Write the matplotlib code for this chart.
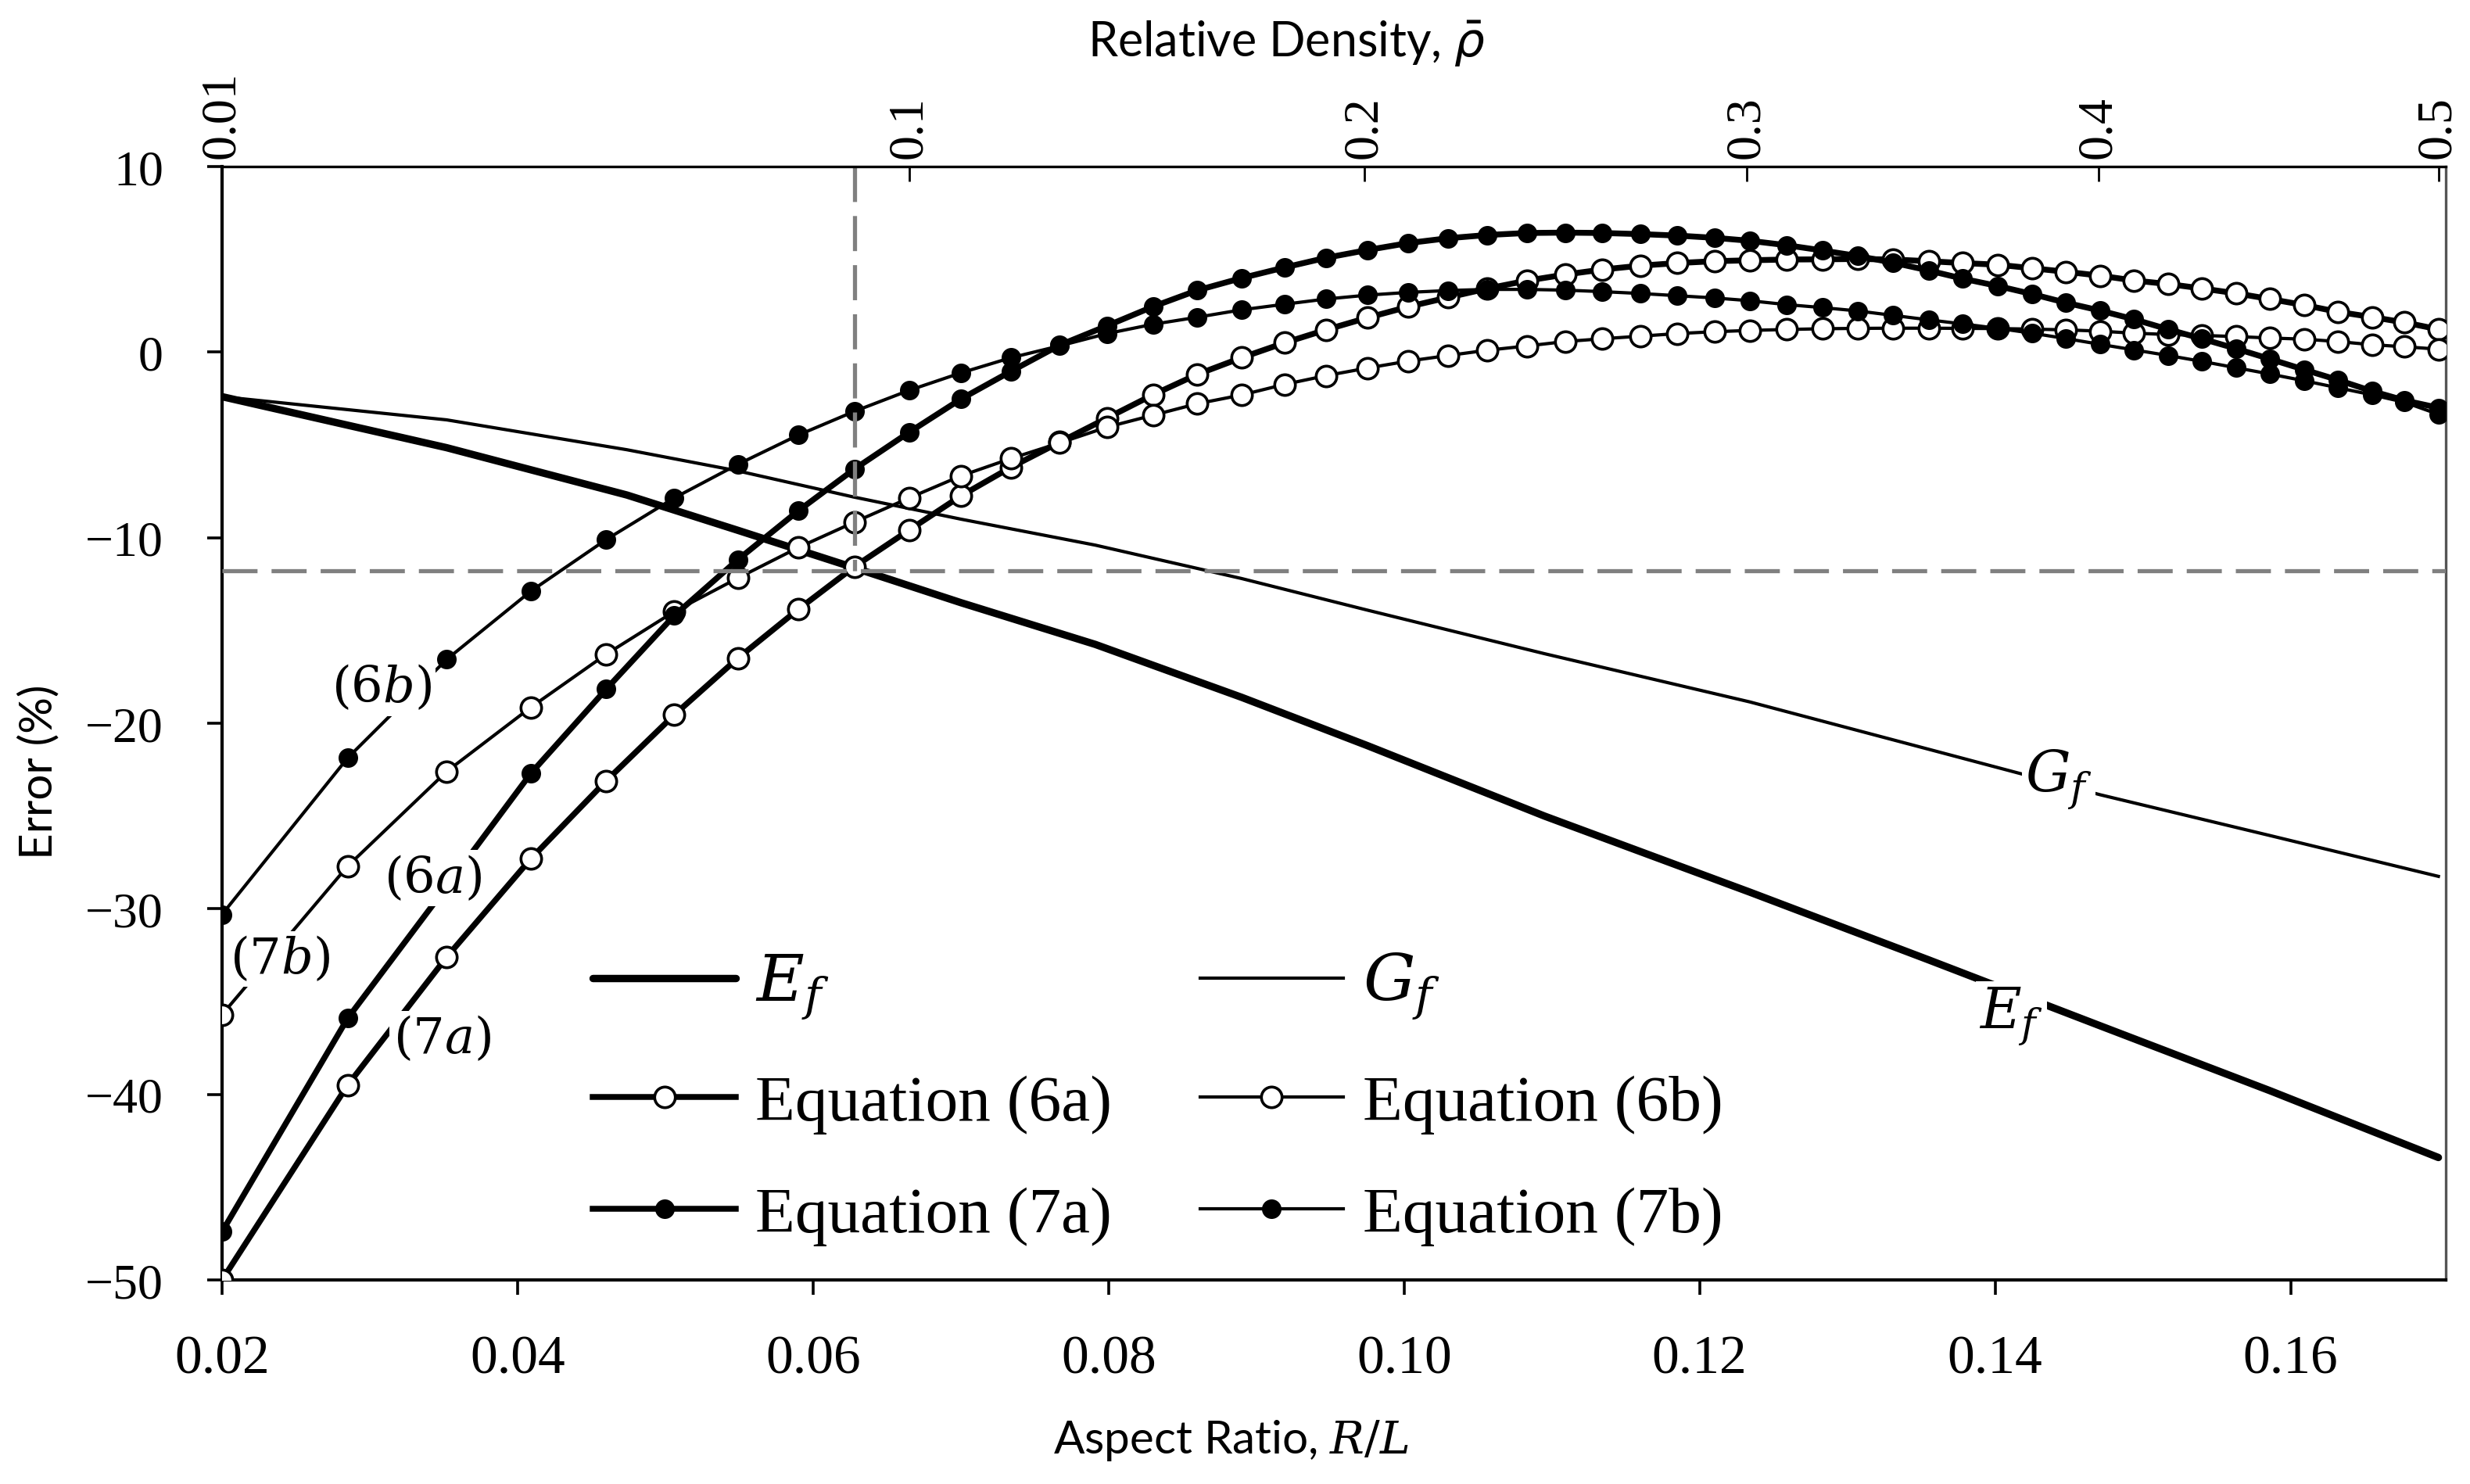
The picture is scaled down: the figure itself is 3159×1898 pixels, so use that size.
import numpy as np
import matplotlib.pyplot as plt
from matplotlib.ticker import FormatStrFormatter

plt.rcParams['font.family'] = 'Liberation Serif'
plt.rcParams['mathtext.fontset'] = 'dejavuserif'

# relative density of each computed point (top axis) and its aspect ratio R/L
density = [0.01, 0.02, 0.03, 0.04, 0.05, 0.06, 0.07, 0.08, 0.09, 0.10,
           0.11, 0.12, 0.13, 0.14, 0.15, 0.16, 0.17, 0.18, 0.19, 0.20,
           0.21, 0.22, 0.23, 0.24, 0.25, 0.26, 0.27, 0.28, 0.29, 0.30,
           0.31, 0.32, 0.33, 0.34, 0.35, 0.36, 0.37, 0.38, 0.39, 0.40,
           0.41, 0.42, 0.43, 0.44, 0.45, 0.46, 0.47, 0.48, 0.49, 0.50]
aspect = [0.0200, 0.0285, 0.0352, 0.0409, 0.0460, 0.0506, 0.0549, 0.0590, 0.0628, 0.0665,
          0.0700, 0.0734, 0.0767, 0.0799, 0.0830, 0.0860, 0.0890, 0.0919, 0.0947, 0.0975,
          0.1003, 0.1030, 0.1056, 0.1083, 0.1109, 0.1134, 0.1160, 0.1185, 0.1210, 0.1234,
          0.1259, 0.1283, 0.1307, 0.1331, 0.1355, 0.1378, 0.1402, 0.1425, 0.1448, 0.1471,
          0.1494, 0.1517, 0.1540, 0.1563, 0.1586, 0.1609, 0.1632, 0.1655, 0.1677, 0.1700]

# error (%) of each equation
eq6a = [-50.0, -39.5, -32.6, -27.3, -23.1, -19.55, -16.5, -13.86, -11.56, -9.59,
        -7.75, -6.2, -4.85, -3.55, -2.3, -1.2, -0.3, 0.5, 1.2, 1.85,
        2.45, 2.95, 3.42, 3.85, 4.18, 4.45, 4.66, 4.8, 4.9, 4.95,
        4.99, 5.0, 5.02, 4.99, 4.9, 4.8, 4.71, 4.52, 4.33, 4.12,
        3.86, 3.67, 3.43, 3.17, 2.86, 2.54, 2.17, 1.89, 1.6, 1.23]
eq6b = [-35.7, -27.7, -22.6, -19.14, -16.28, -13.98, -12.18, -10.53, -9.16, -7.86,
        -6.67, -5.73, -4.89, -4.04, -3.4, -2.78, -2.31, -1.74, -1.27, -0.86,
        -0.48, -0.18, 0.1, 0.33, 0.57, 0.72, 0.86, 1.0, 1.1, 1.17,
        1.22, 1.26, 1.28, 1.29, 1.29, 1.28, 1.27, 1.24, 1.2, 1.13,
        1.02, 0.95, 0.9, 0.84, 0.76, 0.7, 0.57, 0.4, 0.29, 0.16]
eq7a = [-47.4, -35.9, -28.8, -22.7, -18.16, -14.2, -11.19, -8.55, -6.3, -4.32,
        -2.53, -1.03, 0.38, 1.42, 2.45, 3.33, 3.99, 4.56, 5.08, 5.5,
        5.88, 6.14, 6.31, 6.42, 6.44, 6.42, 6.36, 6.28, 6.16, 6.0,
        5.76, 5.48, 5.18, 4.82, 4.4, 3.96, 3.56, 3.13, 2.66, 2.24,
        1.77, 1.23, 0.72, 0.19, -0.37, -0.94, -1.5, -2.1, -2.6, -3.0]
eq7b = [-30.3, -21.87, -16.56, -12.88, -10.1, -7.86, -6.05, -4.47, -3.19, -2.06,
        -1.12, -0.3, 0.34, 1.0, 1.5, 1.88, 2.28, 2.58, 2.86, 3.07,
        3.22, 3.32, 3.38, 3.38, 3.34, 3.26, 3.16, 3.04, 2.92, 2.77,
        2.56, 2.4, 2.22, 1.98, 1.74, 1.52, 1.28, 1.02, 0.73, 0.42,
        0.12, -0.18, -0.5, -0.84, -1.18, -1.54, -1.92, -2.3, -2.7, -3.35]

# Ef and Gf curves (no markers)
line_aspect = [0.0200, 0.0352, 0.0474, 0.0549, 0.0627, 0.0700, 0.0791, 0.0890,
               0.0975, 0.1095, 0.1234, 0.1355, 0.1471, 0.1586, 0.1700]
ef = [-2.4, -5.15, -7.7, -9.6, -11.6, -13.5, -15.75, -18.6,
      -21.2, -25.0, -29.1, -32.75, -36.3, -39.8, -43.4]
gf = [-2.4, -3.65, -5.26, -6.4, -7.8, -9.0, -10.4, -12.2,
      -13.9, -16.25, -18.85, -21.4, -23.85, -26.05, -28.25]

# top axis ticks
density_ticks = ['0.01', '0.1', '0.2', '0.3', '0.4', '0.5']
density_ticks_at = [0.0200, 0.0665, 0.0973, 0.1232, 0.1470, 0.1700]

# reference point marked by the dashed lines
limit_aspect = 0.0628
limit_error = -11.8


fig = plt.figure(figsize=(15.795, 9.495), dpi=200)
ax = fig.add_axes([0.0899, 0.1374, 0.9003, 0.7499])

l_ef, = ax.plot(line_aspect, ef, color='black', lw=3.4, solid_capstyle='round',
                label='$E_f$', zorder=2)
l_gf, = ax.plot(line_aspect, gf, color='black', lw=1.5, label='$G_f$', zorder=2)

l6a, = ax.plot(aspect, eq6a, color='black', lw=2.7, marker='o', ms=9.5,
               mfc='white', mec='black', mew=1.3, label='Equation (6a)', zorder=3)
l6b, = ax.plot(aspect, eq6b, color='black', lw=1.5, marker='o', ms=9.5,
               mfc='white', mec='black', mew=1.3, label='Equation (6b)', zorder=3)
l7a, = ax.plot(aspect, eq7a, color='black', lw=2.7, marker='o', ms=8,
               mfc='black', mec='black', label='Equation (7a)', zorder=3)
l7b, = ax.plot(aspect, eq7b, color='black', lw=1.5, marker='o', ms=8,
               mfc='black', mec='black', label='Equation (7b)', zorder=3)

# dashed guide lines
dash = (0, (8.5, 3.4))
ax.plot([limit_aspect, limit_aspect], [10, limit_error], color='#808080',
        lw=1.9, linestyle=dash, zorder=5)
ax.axhline(limit_error, color='#808080', lw=1.9, linestyle=dash, zorder=5)

ax.set_xlim(0.02, 0.1705)
ax.set_ylim(-50, 10)
ax.set_xticks([0.02, 0.04, 0.06, 0.08, 0.10, 0.12, 0.14, 0.16])
ax.xaxis.set_major_formatter(FormatStrFormatter('%.2f'))
ax.set_yticks([-50, -40, -30, -20, -10, 0, 10])
ax.tick_params(axis='x', direction='out', length=7, width=1.3, pad=18,
               labelsize=25)
ax.tick_params(axis='y', direction='out', length=7, width=1.3, pad=20,
               labelsize=23)
for side in ['left', 'bottom']:
    ax.spines[side].set_linewidth(1.5)
ax.spines['top'].set_visible(False)
ax.spines['right'].set_color('#555555')
ax.spines['right'].set_linewidth(1.2)

# top axis: relative density
ax2 = ax.twiny()
ax2.set_xlim(ax.get_xlim())
ax2.set_xticks(density_ticks_at)
ax2.set_xticklabels(density_ticks, rotation=90)
ax2.tick_params(axis='x', direction='in', length=7, width=1.0, pad=4,
                labelsize=23)
for side in ['left', 'bottom', 'right']:
    ax2.spines[side].set_visible(False)
ax2.spines['top'].set_linewidth(1.2)

# curve labels
label_box = dict(facecolor='white', edgecolor='none', pad=1.5)
ax.text(0.0308, -18.1, '$(6b)$', fontsize=23, ha='center', va='center',
        bbox=label_box, zorder=6)
ax.text(0.0343, -28.35, '$(6a)$', fontsize=23, ha='center', va='center',
        bbox=label_box, zorder=6)
ax.text(0.0239, -32.7, '$(7b)$', fontsize=23, ha='center', va='center',
        bbox=label_box, zorder=6)
ax.text(0.0349, -37.0, '$(7a)$', fontsize=23, ha='center', va='center',
        bbox=label_box, zorder=6)
ax.text(0.1443, -23.0, '$G_f$', fontsize=26, ha='center', va='center',
        bbox=label_box, zorder=6)
ax.text(0.1411, -35.75, '$E_f$', fontsize=26, ha='center', va='center',
        bbox=label_box, zorder=6)

ax.legend(handles=[l_ef, l6a, l7a, l_gf, l6b, l7b],
          loc='upper left', bbox_to_anchor=(0.152, 0.325), ncol=2,
          frameon=False, fontsize=30, numpoints=1, handlelength=2.2,
          handletextpad=0.3, columnspacing=1.35, labelspacing=0.8,
          borderpad=0)

# axis titles
fig.text(1574 / 3159, 1 - 1843 / 1899, 'Aspect Ratio, $R/L$', fontsize=21,
         family='Lato', ha='center', va='center')
fig.text(50 / 3159, 1 - 987 / 1899, 'Error (%)', fontsize=21, family='Lato',
         rotation=90, ha='center', va='center')
fig.text(1645 / 3159, 1 - 56 / 1899, r'Relative Density, $\bar{\rho}$',
         fontsize=22, family='Lato', ha='center', va='center',
         math_fontfamily='dejavusans')

fig.savefig('out.png', dpi=200)
